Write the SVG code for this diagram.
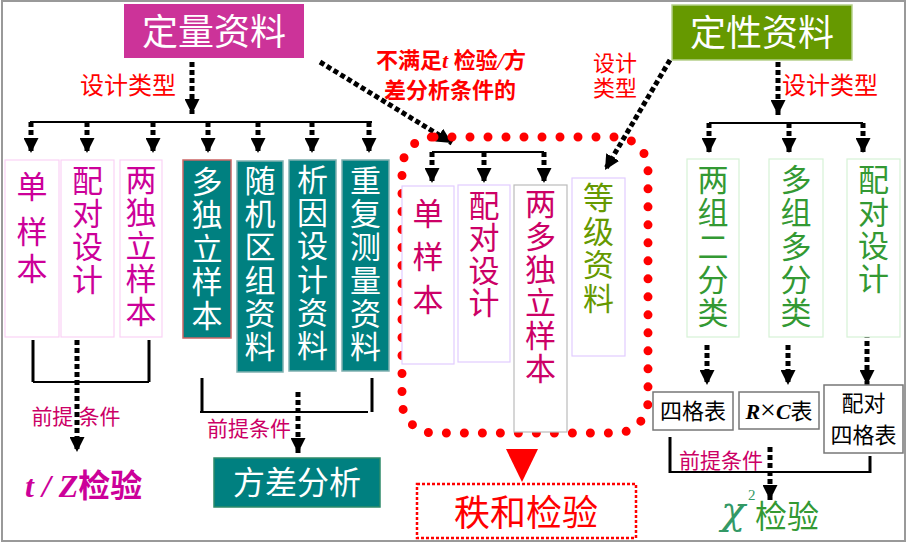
<svg xmlns="http://www.w3.org/2000/svg" width="908" height="544" viewBox="0 0 908 544">
<defs>
<marker id="ah" markerUnits="userSpaceOnUse" markerWidth="15" markerHeight="15" refX="14" refY="7" orient="auto" viewBox="0 0 14 14">
<path d="M0,0 L14,7 L0,14 z" fill="#000"/>
</marker>
<style>
text{font-family:"Liberation Serif","Noto Sans CJK SC",serif}
.dot{fill:none;stroke:#000;stroke-width:5;stroke-dasharray:5 3}
.ln{fill:none;stroke:#000;stroke-width:2}
.thk{fill:none;stroke:#000;stroke-width:3}
.bw{fill:#fff;stroke:#FAD2F5;stroke-width:1.2}
.bm{fill:#fff;stroke:#E2CCFF;stroke-width:1.2}
.bg{fill:#fff;stroke:#D6F2D6;stroke-width:1.2}
.bt{fill:#008080;stroke:#80B0B0;stroke-width:1.5}
.bs{fill:#fff;stroke:#777;stroke-width:1.5}
.vm{fill:#CC0099;font-size:31px;text-anchor:middle}
.vc{fill:#CC0066;font-size:31px;text-anchor:middle}
.vw{fill:#fff;font-size:31px;text-anchor:middle}
.vg{fill:#339933;font-size:31px;text-anchor:middle}
.vo{fill:#669900;font-size:31px;text-anchor:middle}
.red{fill:#FF0000;text-anchor:middle}
.pre{fill:#CC0066;font-size:21px;text-anchor:middle}
.sm{fill:#000;font-size:22px;text-anchor:middle}
</style>
</defs>
<rect x="2" y="1" width="903" height="540" fill="#fff" stroke="#999" stroke-width="2"/>

<g id="connectors">
<line class="dot" x1="192" y1="62" x2="192" y2="114" marker-end="url(#ah)"/>
<line class="ln" x1="30" y1="122" x2="372" y2="122"/>
<line class="dot" x1="31" y1="122" x2="31" y2="153" marker-end="url(#ah)"/>
<line class="dot" x1="87" y1="122" x2="87" y2="153" marker-end="url(#ah)"/>
<line class="dot" x1="153" y1="122" x2="153" y2="153" marker-end="url(#ah)"/>
<line class="dot" x1="208" y1="122" x2="208" y2="153" marker-end="url(#ah)"/>
<line class="dot" x1="258" y1="122" x2="258" y2="153" marker-end="url(#ah)"/>
<line class="dot" x1="312" y1="122" x2="312" y2="153" marker-end="url(#ah)"/>
<line class="dot" x1="369" y1="122" x2="369" y2="153" marker-end="url(#ah)"/>
<line class="dot" x1="778" y1="62" x2="778" y2="115" marker-end="url(#ah)"/>
<line class="ln" x1="709" y1="123" x2="863" y2="123"/>
<line class="dot" x1="709" y1="123" x2="709" y2="153" marker-end="url(#ah)"/>
<line class="dot" x1="789" y1="123" x2="789" y2="153" marker-end="url(#ah)"/>
<line class="dot" x1="863" y1="123" x2="863" y2="153" marker-end="url(#ah)"/>
<line class="dot" x1="320" y1="62" x2="452" y2="143" marker-end="url(#ah)"/>
<line class="dot" x1="670" y1="60" x2="605" y2="170" marker-end="url(#ah)"/>
<line class="ln" x1="432" y1="152" x2="544" y2="152"/>
<line class="dot" x1="432" y1="152" x2="432" y2="183" marker-end="url(#ah)"/>
<line class="dot" x1="484" y1="152" x2="484" y2="183" marker-end="url(#ah)"/>
<line class="dot" x1="544" y1="152" x2="544" y2="183" marker-end="url(#ah)"/>
<rect x="402" y="137" width="246" height="296" rx="32" fill="none" stroke="#FF0000" stroke-width="9" stroke-linecap="round" stroke-dasharray="0 18"/>
<polygon points="506,449 538,449 522,482" fill="#FF0000"/>
<line class="thk" x1="33" y1="340" x2="33" y2="382"/>
<line class="thk" x1="149" y1="340" x2="149" y2="382"/>
<line class="ln" x1="33" y1="382" x2="149" y2="382"/>
<line class="dot" x1="77" y1="340" x2="77" y2="452" marker-end="url(#ah)"/>
<line class="thk" x1="202" y1="378" x2="202" y2="412"/>
<line class="thk" x1="372" y1="378" x2="372" y2="412"/>
<line class="ln" x1="200" y1="412" x2="368" y2="412"/>
<line class="dot" x1="298" y1="392" x2="298" y2="453" marker-end="url(#ah)"/>
<line class="dot" x1="707" y1="345" x2="707" y2="385" marker-end="url(#ah)"/>
<line class="dot" x1="788" y1="345" x2="788" y2="385" marker-end="url(#ah)"/>
<line class="dot" x1="867" y1="325" x2="867" y2="385" marker-end="url(#ah)"/>
<line class="thk" x1="670" y1="437" x2="670" y2="473"/>
<line class="thk" x1="870" y1="456" x2="870" y2="473"/>
<line class="ln" x1="670" y1="472" x2="870" y2="472"/>
<line class="dot" x1="770" y1="447" x2="770" y2="500" marker-end="url(#ah)"/>
</g>

<g id="labels">
<text class="red" x="128" y="94" font-size="24">设计类型</text>
<text class="red" x="830" y="94" font-size="24">设计类型</text>
<text class="red" x="615" y="71" font-size="22">设计</text>
<text class="red" x="615" y="96" font-size="22">类型</text>
<text class="red" x="451" y="68" font-size="22" font-weight="bold">不满足<tspan font-style="italic">t</tspan> 检验<tspan font-style="italic">/</tspan>方</text>
<text class="red" x="450" y="98" font-size="22" font-weight="bold">差分析条件的</text>
<text class="pre" x="76" y="424">前提 条件</text>
<text class="pre" x="249" y="436">前提条件</text>
<text class="pre" x="721" y="468">前提条件</text>
</g>

<g id="n-quant">
<rect x="124" y="4" width="180" height="54" fill="#CC3399"/>
<text x="214" y="45" fill="#fff" font-size="36" text-anchor="middle">定量资料</text>
</g>
<g id="n-qual">
<rect x="672" y="5" width="180" height="55" fill="#669900" stroke="#B5D08A" stroke-width="1.5"/>
<text x="762" y="46" fill="#fff" font-size="36" text-anchor="middle">定性资料</text>
</g>

<g id="n-single">
<rect class="bw" x="5" y="160" width="54" height="177"/>
<text class="vm"><tspan x="32" y="198">单</tspan><tspan x="32" y="243">样</tspan><tspan x="32" y="280">本</tspan></text>
</g>
<g id="n-paired">
<rect class="bw" x="61" y="160" width="53" height="177"/>
<text class="vm"><tspan x="87.5" y="192">配</tspan><tspan x="87.5" y="225">对</tspan><tspan x="87.5" y="258">设</tspan><tspan x="87.5" y="291">计</tspan></text>
</g>
<g id="n-two-indep">
<rect class="bw" x="120" y="160" width="42" height="177"/>
<text class="vm"><tspan x="141" y="191">两</tspan><tspan x="141" y="224">独</tspan><tspan x="141" y="257">立</tspan><tspan x="141" y="290">样</tspan><tspan x="141" y="323">本</tspan></text>
</g>
<g id="n-multi-indep">
<rect x="183" y="160" width="48" height="178" fill="#008080" stroke="#CC6666" stroke-width="1.5"/>
<text class="vw"><tspan x="207" y="193">多</tspan><tspan x="207" y="226">独</tspan><tspan x="207" y="260">立</tspan><tspan x="207" y="293">样</tspan><tspan x="207" y="327">本</tspan></text>
</g>
<g id="n-random-block">
<rect class="bt" x="237" y="161" width="46" height="211"/>
<text class="vw"><tspan x="260" y="192">随</tspan><tspan x="260" y="225">机</tspan><tspan x="260" y="258">区</tspan><tspan x="260" y="292">组</tspan><tspan x="260" y="325">资</tspan><tspan x="260" y="358">料</tspan></text>
</g>
<g id="n-factorial">
<rect class="bt" x="289" y="160" width="47" height="211"/>
<text class="vw"><tspan x="312.5" y="191">析</tspan><tspan x="312.5" y="224">因</tspan><tspan x="312.5" y="257">设</tspan><tspan x="312.5" y="291">计</tspan><tspan x="312.5" y="324">资</tspan><tspan x="312.5" y="357">料</tspan></text>
</g>
<g id="n-repeated">
<rect class="bt" x="342" y="160" width="47" height="211"/>
<text class="vw"><tspan x="365.5" y="192">重</tspan><tspan x="365.5" y="225">复</tspan><tspan x="365.5" y="258">测</tspan><tspan x="365.5" y="292">量</tspan><tspan x="365.5" y="325">资</tspan><tspan x="365.5" y="358">料</tspan></text>
</g>

<g id="n-m-single">
<rect class="bm" x="402" y="186" width="52" height="178"/>
<text class="vc"><tspan x="428" y="225">单</tspan><tspan x="428" y="268">样</tspan><tspan x="428" y="311">本</tspan></text>
</g>
<g id="n-m-paired">
<rect class="bm" x="458" y="185" width="52" height="177"/>
<text class="vc"><tspan x="484" y="217">配</tspan><tspan x="484" y="249">对</tspan><tspan x="484" y="282">设</tspan><tspan x="484" y="314">计</tspan></text>
</g>
<g id="n-m-multi">
<rect x="514" y="185" width="53" height="247" fill="#fff" stroke="#BBBBBB" stroke-width="1.2"/>
<text class="vc"><tspan x="540.5" y="215">两</tspan><tspan x="540.5" y="248">多</tspan><tspan x="540.5" y="281">独</tspan><tspan x="540.5" y="314">立</tspan><tspan x="540.5" y="347">样</tspan><tspan x="540.5" y="380">本</tspan></text>
</g>
<g id="n-m-rank">
<rect class="bm" x="572" y="178" width="53" height="178"/>
<text class="vo"><tspan x="598.5" y="209">等</tspan><tspan x="598.5" y="243">级</tspan><tspan x="598.5" y="276">资</tspan><tspan x="598.5" y="310">料</tspan></text>
</g>

<g id="n-two-group">
<rect class="bg" x="687" y="159" width="52" height="178"/>
<text class="vg"><tspan x="713" y="191">两</tspan><tspan x="713" y="224">组</tspan><tspan x="713" y="258">二</tspan><tspan x="713" y="291">分</tspan><tspan x="713" y="324">类</tspan></text>
</g>
<g id="n-multi-group">
<rect class="bg" x="769" y="159" width="54" height="178"/>
<text class="vg"><tspan x="796" y="191">多</tspan><tspan x="796" y="224">组</tspan><tspan x="796" y="258">多</tspan><tspan x="796" y="291">分</tspan><tspan x="796" y="324">类</tspan></text>
</g>
<g id="n-q-paired">
<rect class="bg" x="847" y="159" width="53" height="178"/>
<text class="vg"><tspan x="873.5" y="191">配</tspan><tspan x="873.5" y="224">对</tspan><tspan x="873.5" y="257">设</tspan><tspan x="873.5" y="290">计</tspan></text>
</g>

<g id="n-fourfold">
<rect class="bs" x="653" y="392" width="80" height="38"/>
<text class="sm" x="693" y="419">四格表</text>
</g>
<g id="n-rxc">
<rect class="bs" x="739" y="392" width="80" height="37"/>
<text class="sm" x="779" y="419"><tspan font-weight="bold" font-style="italic">R</tspan><tspan font-size="28">×</tspan><tspan font-weight="bold" font-style="italic">C</tspan>表</text>
</g>
<g id="n-paired-fourfold">
<rect class="bs" x="824" y="385" width="79" height="68"/>
<text class="sm" x="863.5" y="411">配对</text>
<text class="sm" x="863.5" y="443">四格表</text>
</g>

<g id="n-tz">
<text x="25" y="497" fill="#CC0099" font-size="32" font-weight="bold"><tspan font-style="italic">t / Z</tspan>检验</text>
</g>
<g id="n-anova">
<rect x="214" y="458" width="166" height="49" fill="#008080" stroke="#2E8B6A" stroke-width="1.5"/>
<text x="297" y="494" fill="#fff" font-size="32" text-anchor="middle">方差分析</text>
</g>
<g id="n-rank-sum">
<rect x="417" y="484" width="219" height="54" fill="#fff" stroke="#FF0000" stroke-width="2.5" stroke-dasharray="3 2"/>
<text x="526" y="526" fill="#FF0000" font-size="36" text-anchor="middle">秩和检验</text>
</g>
<g id="n-chi">
<text x="721" y="524" fill="#339966" font-size="40" font-style="italic" style="font-family:'DejaVu Serif',serif">χ</text>
<text x="748" y="500" fill="#339966" font-size="15">2</text>
<text x="755" y="528" fill="#339933" font-size="32">检验</text>
</g>
</svg>
